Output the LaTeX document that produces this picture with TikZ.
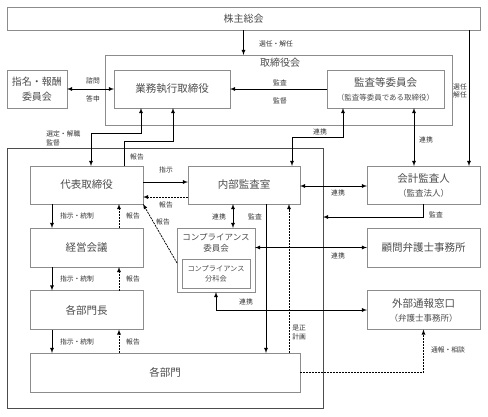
\documentclass[tikz,border=0pt]{standalone}
\usepackage{fontspec}
\setmainfont{Noto Sans CJK JP}

\tikzset{
  box/.style={draw=black!45, line width=0.6pt, text=black!70, align=center,
    inner sep=0pt, outer sep=0pt, font=\fontsize{10.5}{14}\selectfont},
  lbl/.style={text=black!80, inner sep=0pt, align=left,
    font=\fontsize{6.8}{9}\selectfont},
  dashline/.style={dash pattern=on 2pt off 1pt},
}

\begin{document}
\begin{tikzpicture}[x=1pt, y=-1pt, >=latex, line width=0.75pt]
    \useasboundingbox (0,0) rectangle (488,416);
    \path
    (243.5,18.5) node[box, minimum width=473pt, minimum height=23pt,
      font=\fontsize{10}{12}\selectfont] (1) {株主総会}
    (278.5,90) node[box, minimum width=347pt, minimum height=70pt] (2) {}
    (280,63) node[box, draw=none, font=\fontsize{10}{12}\selectfont] (2a) {取締役会}
    (172,89) node[box, minimum width=116pt, minimum height=38pt] (3) {業務執行取締役}
    (385.5,89) node[box, minimum width=117pt, minimum height=38pt] (4)
      {監査等委員会\\\fontsize{7.5}{9}\selectfont （監査等委員である取締役）}
    (37,89) node[box, minimum width=60pt, minimum height=38pt,
      font=\fontsize{10}{15}\selectfont] (5) {指名・報酬\\委員会}
    (165,278) node[box, draw=black!70, minimum width=316pt, minimum height=260pt] (6) {}
    (86.5,185) node[box, minimum width=113pt, minimum height=38pt] (7) {代表取締役}
    (244,185) node[box, minimum width=112pt, minimum height=38pt] (8) {内部監査室}
    (86.5,247.5) node[box, minimum width=113pt, minimum height=39pt] (9) {経営会議}
    (86.5,310) node[box, minimum width=113pt, minimum height=39pt] (10) {各部門長}
    (165,372.5) node[box, minimum width=270pt, minimum height=39pt] (11) {各部門}
    (216,260) node[box, minimum width=78pt, minimum height=64pt] (12) {}
    (216,243) node[box, draw=none, font=\fontsize{8.5}{11}\selectfont] (12a) {コンプライアンス\\委員会}
    (216,273.5) node[box, minimum width=68pt, minimum height=29pt,
      font=\fontsize{7.2}{10}\selectfont] (13) {コンプライアンス\\分科会}
    (423.5,185) node[box, minimum width=113pt, minimum height=38pt] (14)
      {会計監査人\\\fontsize{8.5}{11}\selectfont （監査法人）}
    (423.5,247.5) node[box, minimum width=113pt, minimum height=39pt] (15) {顧問弁護士事務所}
    (423.5,310) node[box, minimum width=113pt, minimum height=39pt] (16)
      {外部通報窓口\\\fontsize{8.5}{11}\selectfont （弁護士事務所）};

    \coordinate (p1) at (141,133);
    \coordinate (p2) at (91,133);
    \coordinate (p3) at (124,141);
    \coordinate (p4) at (173,141);
    \coordinate (p5) at (424,217);
    \coordinate (p6) at (343,137);
    \coordinate (p7) at (292,137);
    \coordinate (p8) at (414,140);
    \coordinate (p9) at (469,40);
    \coordinate (q1) at (52,0);
    \coordinate (q2) at (119,0);

    % board level
    \draw[->] (1.south) -- (1.south |- 2.north);
    \draw[->] (1.south -| p9) -- (14.north -| p9);
    \draw[<->] (5.east) -- (3.west);
    \draw[->] (4.west) -- (3.east);
    \draw[<->] (3.south -| p1) -- (p1) -- (p2) -- (p2 |- 7.north);
    \draw[->] (p3 |- 7.north) -- (p3) -- (p4) -- (p4 |- 3.south);
    \draw[<->] (4.south -| p6) -- (p6) -- (p7) -- (p7 |- 8.north);
    \draw[<->] (4.south -| p8) -- (14.north -| p8);

    % company
    \draw[->] ([yshift=3pt]7.east) -- ([yshift=3pt]8.west);
    \draw[->, dashline] ([yshift=-12pt]8.west) -- ([yshift=-12pt]7.east);
    \draw[->, dashline] ([yshift=-3pt]12.west) -- (7.south east);
    \draw[<->] ([xshift=-11pt]8.south) -- ([xshift=-11pt]8.south |- 12.north);
    \draw[->] ([xshift=22pt]8.south) -- ([xshift=22pt]8.south |- 11.north);
    \draw[->, dashline] ([xshift=45pt]8.south |- 11.north) -- ([xshift=45pt]8.south);
    \foreach \a/\b in {7/9, 9/10, 10/11} {
      \draw[->] (\a.south -| q1) -- (\b.north -| q1);
      \draw[->, dashline] (\b.north -| q2) -- (\a.south -| q2);
    }

    % outside
    \draw[<->] ([yshift=-1pt]8.east) -- ([yshift=-1pt]14.west);
    \draw[->] (14.south) -- (14.south |- p5) -- (6.east |- p5);
    \draw[<->] (12.east |- 15.west) -- (15.west);
    \draw[<->] (12.south) |- (16.west);
    \draw[->, dashline] (11.east) -| (16.south);

    \path
    (93,81) node[lbl] (l1) {諮問}
    (93,99) node[lbl] (l2) {答申}
    (280,83) node[lbl] (l3) {監査}
    (280,101) node[lbl] (l4) {監督}
    (276,44) node[lbl] (l5) {選任・解任}
    (460,91) node[lbl, align=center, font=\fontsize{6.8}{8}\selectfont] (l6) {選任\\解任}
    (46,138.5) node[lbl, anchor=west] (l7) {選定・解職\\監督}
    (137,157) node[lbl] (l8) {報告}
    (166,170) node[lbl] (l9) {指示}
    (166,205) node[lbl] (l10) {報告}
    (163,222) node[lbl] (l11) {報告}
    (219,217) node[lbl] (l12) {連携}
    (255,217) node[lbl] (l13) {監査}
    (292,333) node[lbl, anchor=west] (l14) {是正\\計画}
    (338,193) node[lbl] (l15) {連携}
    (436,215) node[lbl] (l16) {監査}
    (338,256) node[lbl] (l17) {連携}
    (246,302) node[lbl] (l18) {連携}
    (448,350) node[lbl] (l19) {通報・相談}
    (320,132) node[lbl] (l20) {連携}
    (426,140) node[lbl] (l21) {連携};
    \foreach \ly [count=\i] in {216, 279, 342} {
      \path (77,\ly) node[lbl] (s\i) {指示・統制}
            (133,\ly) node[lbl] (r\i) {報告};
    }
\end{tikzpicture}
\end{document}
